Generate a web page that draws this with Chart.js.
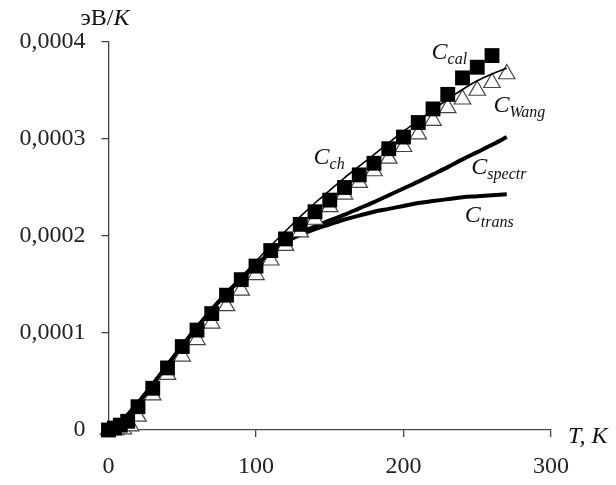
<!DOCTYPE html>
<html lang="ru">
  <head>
    <meta charset="UTF-8" />
    <title>Теплоёмкость, эВ/K</title>
    <script src="https://cdn.jsdelivr.net/npm/chart.js"></script>
    <style>
      html, body { margin: 0; padding: 0; background: #fff; }
      canvas { display: block; }
    </style>
  </head>

  <body>
    <canvas id="myChart" width="616" height="485"></canvas>

    <script>
      // values below are in units of 1e-4 eV/K

      // C_cal - black squares
      const tCal = [0, 4, 8, 13, 20, 30, 40, 50, 60, 70, 80, 90, 100, 110, 120, 130, 140, 150, 160, 170, 180, 190, 200, 210, 220, 230, 240, 250, 260];
      const cCal = [0, 0.02, 0.05, 0.09, 0.24, 0.43, 0.64, 0.86, 1.03, 1.2, 1.39, 1.55, 1.69, 1.85, 1.97, 2.12, 2.25, 2.37, 2.5, 2.63, 2.75, 2.9, 3.02, 3.17, 3.31, 3.46, 3.63, 3.74, 3.86];

      // C_Wang - open triangles
      const tWang = [0, 5, 10, 15, 20, 30, 40, 50, 60, 70, 80, 90, 100, 110, 120, 130, 140, 150, 160, 170, 180, 190, 200, 210, 220, 230, 240, 250, 260, 270];
      const cWang = [0, 0, 0.01, 0.04, 0.14, 0.36, 0.57, 0.76, 0.93, 1.1, 1.28, 1.44, 1.6, 1.75, 1.9, 2.04, 2.17, 2.3, 2.43, 2.55, 2.67, 2.8, 2.92, 3.05, 3.19, 3.32, 3.41, 3.5, 3.58, 3.67];

      // curves: C_ch (thin), C_spectr and C_trans (thick)
      const tCurve = [0, 10, 20, 30, 40, 50, 60, 70, 80, 90, 100, 110, 120, 130, 140, 150, 160, 170, 180, 190, 200, 210, 220, 230, 240, 250, 260, 270];
      const cCh = [0, 0.11, 0.28, 0.47, 0.67, 0.87, 1.06, 1.24, 1.42, 1.58, 1.74, 1.9, 2.05, 2.2, 2.34, 2.47, 2.6, 2.72, 2.84, 2.96, 3.08, 3.19, 3.3, 3.41, 3.51, 3.6, 3.67, 3.73];
      const cSpectr = [0, 0.11, 0.28, 0.47, 0.67, 0.87, 1.06, 1.24, 1.41, 1.56, 1.7, 1.83, 1.95, 2.03, 2.1, 2.16, 2.22, 2.285, 2.35, 2.42, 2.49, 2.56, 2.635, 2.71, 2.79, 2.865, 2.94, 3.02];
      const cTrans = [0, 0.11, 0.28, 0.47, 0.67, 0.87, 1.06, 1.24, 1.41, 1.56, 1.7, 1.83, 1.94, 2.01, 2.07, 2.12, 2.17, 2.21, 2.25, 2.28, 2.31, 2.34, 2.36, 2.38, 2.4, 2.41, 2.42, 2.43];

      // curve labels (C + subscript), anchored in data units
      const labelSubs = ["cal", "Wang", "ch", "spectr", "trans"];
      const labelT = [219, 261, 139, 246, 241.5];
      const labelC = [3.82, 3.28, 2.74, 2.64, 2.14];

      const serif = '"Liberation Serif", "Times New Roman", serif';

      function points(ts, cs) {
        return ts.map((t, i) => ({ x: t, y: cs[i] * 1e-4 }));
      }

      // draws the curve labels and the two axis titles
      const textPlugin = {
        id: "texts",
        afterDatasetsDraw(chart) {
          const { ctx, scales, chartArea } = chart;
          ctx.save();
          ctx.fillStyle = "#111";
          ctx.textBaseline = "alphabetic";
          ctx.textAlign = "left";

          labelSubs.forEach((sub, i) => {
            const px = scales.x.getPixelForValue(labelT[i]);
            const py = scales.y.getPixelForValue(labelC[i] * 1e-4);
            ctx.font = "italic 24px " + serif;
            ctx.fillText("C", px, py);
            const w = ctx.measureText("C").width;
            ctx.font = "italic 16px " + serif;
            ctx.fillText(sub, px + w, py + 5);
          });

          // y title: эВ/K
          let x0 = chartArea.left - 28;
          const y0 = chartArea.top - 17;
          ctx.font = "24px " + serif;
          ctx.fillText("эВ/", x0, y0);
          x0 += ctx.measureText("эВ/").width;
          ctx.font = "italic 24px " + serif;
          ctx.fillText("K", x0, y0);

          // x title: T, K
          ctx.fillText("T, K", chartArea.right + 17, chartArea.bottom + 13);
          ctx.restore();
        },
      };

      const ctx = document.getElementById("myChart").getContext("2d");
      const myChart = new Chart(ctx, {
        type: "scatter",
        data: {
          datasets: [
            {
              label: "C_ch",
              data: points(tCurve, cCh),
              showLine: true,
              borderColor: "#000",
              borderWidth: 1.6,
              pointRadius: 0,
              cubicInterpolationMode: "monotone",
              clip: false,
              order: 0,
            },
            {
              label: "C_cal",
              data: points(tCal, cCal),
              pointStyle: "rect",
              pointRadius: 10.5,
              backgroundColor: "#000",
              borderColor: "#000",
              borderWidth: 0,
              clip: false,
              order: 1,
            },
            {
              label: "C_Wang",
              data: points(tWang, cWang),
              pointStyle: "triangle",
              pointRadius: 9.5,
              backgroundColor: "#fff",
              borderColor: "#444",
              borderWidth: 1.2,
              clip: false,
              order: 2,
            },
            {
              label: "C_spectr",
              data: points(tCurve, cSpectr),
              showLine: true,
              borderColor: "#000",
              borderWidth: 4,
              pointRadius: 0,
              cubicInterpolationMode: "monotone",
              clip: false,
              order: 3,
            },
            {
              label: "C_trans",
              data: points(tCurve, cTrans),
              showLine: true,
              borderColor: "#000",
              borderWidth: 4,
              pointRadius: 0,
              cubicInterpolationMode: "monotone",
              clip: false,
              order: 3,
            },
          ],
        },
        options: {
          responsive: false,
          animation: false,
          devicePixelRatio: 1,
          layout: { padding: { left: 0, top: 42, right: 65, bottom: 0 } },
          plugins: {
            legend: { display: false },
            tooltip: { enabled: false },
          },
          scales: {
            x: {
              type: "linear",
              min: 0,
              max: 300,
              ticks: {
                stepSize: 100,
                color: "#222",
                padding: 15,
                font: { family: serif, size: 24 },
              },
              grid: {
                drawOnChartArea: false,
                drawTicks: true,
                tickLength: 7,
                color: "#444",
                lineWidth: 1.3,
              },
              border: { display: true, color: "#444", width: 1.3 },
              afterFit: (s) => { s.height = 55; },
            },
            y: {
              type: "linear",
              min: 0,
              max: 0.0004,
              ticks: {
                stepSize: 0.0001,
                color: "#222",
                padding: 16,
                font: { family: serif, size: 24 },
                callback: (v) => (v === 0 ? "0" : v.toFixed(4).replace(".", ",")),
              },
              grid: {
                drawOnChartArea: false,
                drawTicks: true,
                tickLength: 7,
                color: "#444",
                lineWidth: 1.3,
              },
              border: { display: true, color: "#444", width: 1.3 },
              afterFit: (s) => { s.width = 108.5; },
            },
          },
        },
        plugins: [textPlugin],
      });
    </script>
  </body>
</html>
